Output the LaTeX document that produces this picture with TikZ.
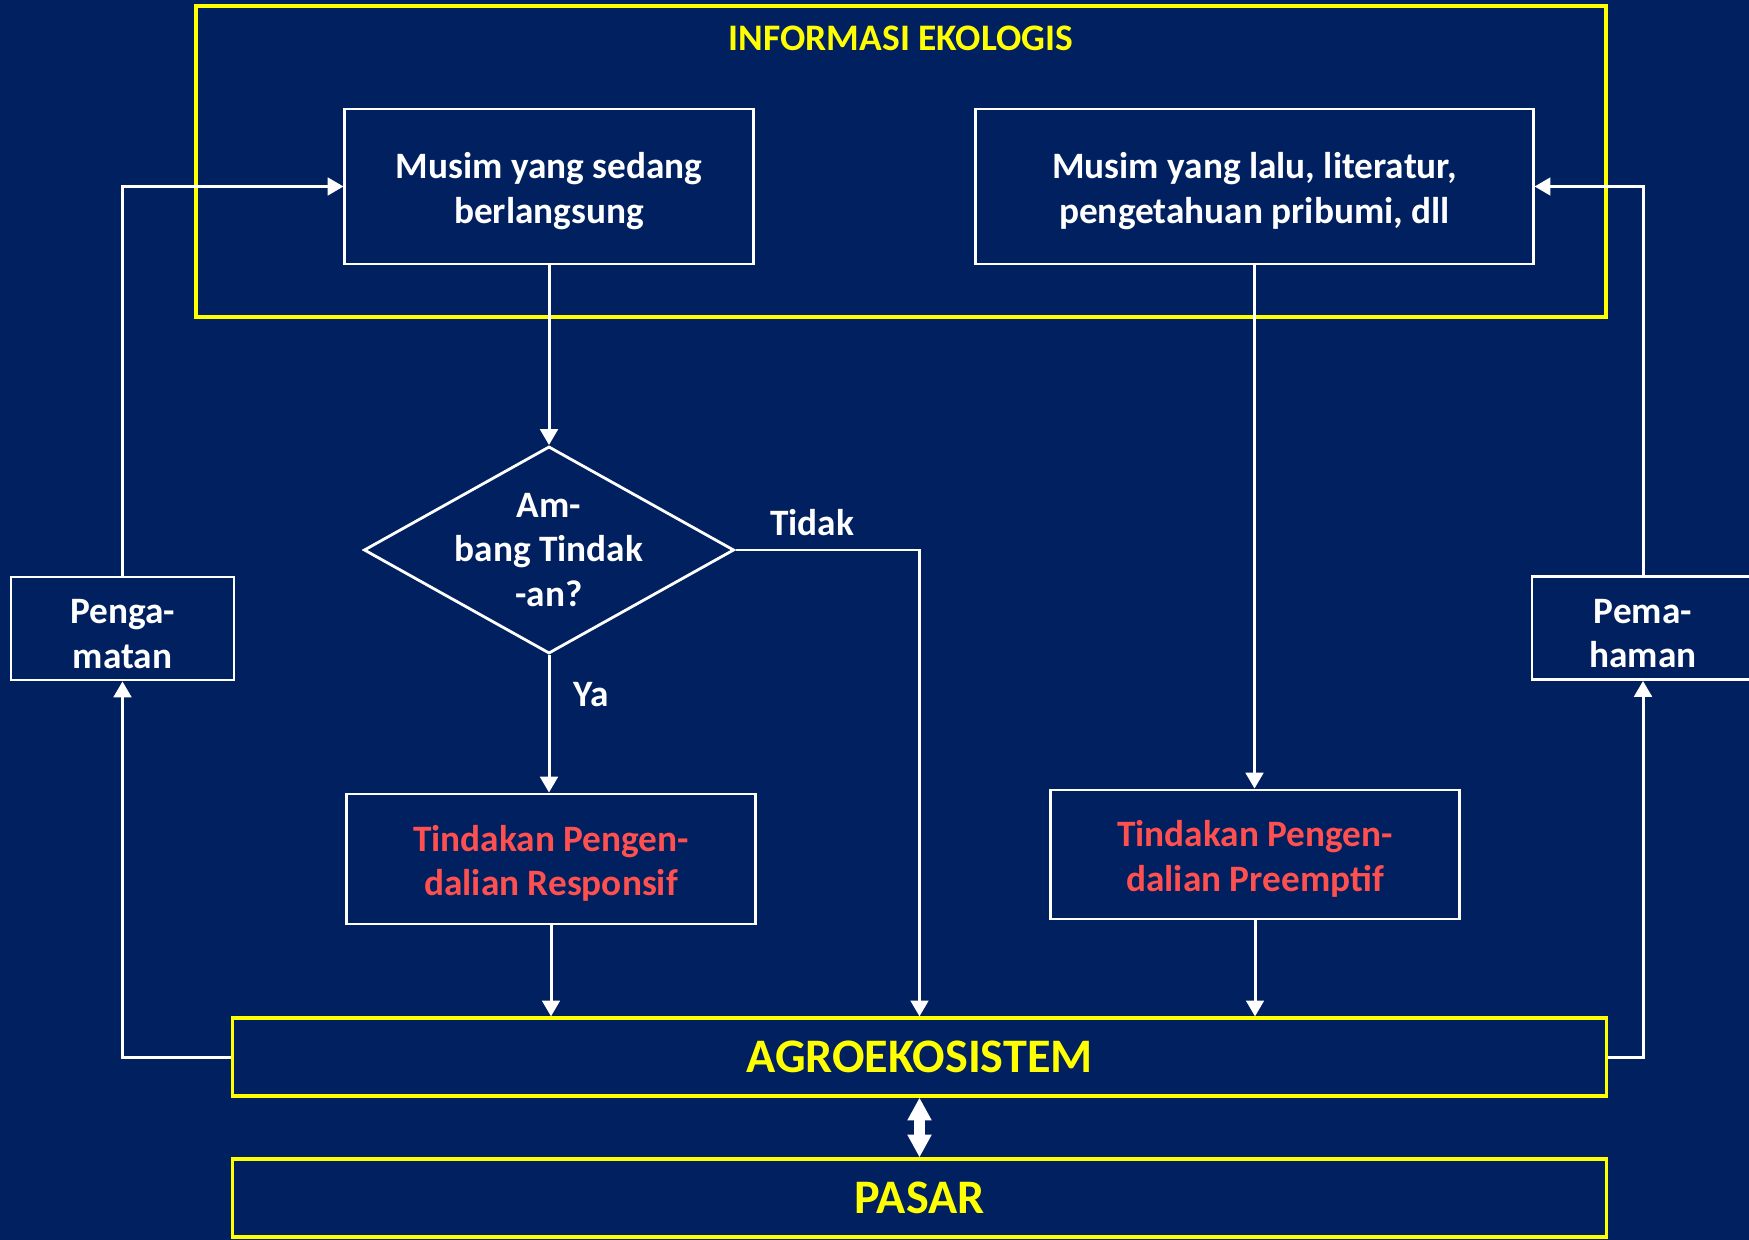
\documentclass[tikz,border=0pt]{standalone}
\usepackage{fontspec}
\setmainfont{Carlito}
\usepackage{xcolor}
\usepackage{tikz}
\usetikzlibrary{shapes.geometric,arrows.meta}
\definecolor{ppnavy}{RGB}{0, 32, 96}
\definecolor{ppyellow}{RGB}{255, 255, 0}
\definecolor{ppred}{RGB}{255, 80, 80}
\newcommand{\boxstrut}{\rule{0pt}{10pt}}

\begin{document}
\begin{tikzpicture}[x=0.01cm, y=-0.01cm,
  box/.style={draw=white, line width=0.8pt, align=center, inner sep=0pt, text=white, font=\fontsize{10.6}{12.7}\selectfont\bfseries},
  decision/.style={draw=white, line width=0.8pt, diamond, align=center, inner sep=-10pt, text=white, font=\fontsize{10.6}{12.7}\selectfont\bfseries},
  ybox/.style={draw=ppyellow, line width=0.9pt, text=ppyellow, inner sep=0pt, minimum width=13.73cm, minimum height=0.78cm, font=\fontsize{13.7}{16}\selectfont\bfseries},
  lbl/.style={text=white, font=\fontsize{10.6}{12.7}\selectfont\bfseries},
  flow/.style={white, line width=0.85pt, -{Triangle[width=5pt,length=4.5pt]}}]
\useasboundingbox (0,0) rectangle (1749,1240);
\fill[ppnavy] (0,0) rectangle (1749,1240);
\clip (0,0) rectangle (1749,1240);

% Informasi ekologis
\draw[ppyellow, line width=0.9pt] (196,6) rectangle (1606,317);
\node[text=ppyellow, font=\fontsize{10.65}{12.7}\selectfont\bfseries] (info) at (901,38) {INFORMASI EKOLOGIS};
\node[box, minimum width=4.08cm, minimum height=1.55cm] (musimkini) at (549,186.5) {\boxstrut Musim yang sedang\\berlangsung};
\node[box, minimum width=5.57cm, minimum height=1.55cm] (musimlalu) at (1254.5,186.5) {\boxstrut Musim yang lalu, literatur,\\pengetahuan pribumi, dll};

% Keputusan
\node[decision, aspect=1.79, minimum width=3.7cm, minimum height=2.07cm] (ambang) at (549,550) {Am-\\bang Tindak\\-an?};
\node[box, text=ppred, minimum width=4.08cm, minimum height=1.3cm] (responsif) at (551,859) {\boxstrut Tindakan Pengen-\\dalian Responsif};
\node[box, text=ppred, minimum width=4.08cm, minimum height=1.29cm] (preemptif) at (1255,854.5) {\boxstrut Tindakan Pengen-\\dalian Preemptif};
\node[box, minimum width=2.23cm, minimum height=1.03cm] (pengamatan) at (122.5,628.5) {\boxstrut Penga-\\matan};
\node[box, minimum width=2.22cm, minimum height=1.03cm] (pemahaman) at (1643,628) {\boxstrut Pema-\\haman};

% Agroekosistem dan pasar
\node[ybox] (agro) at (919.5,1057) {AGROEKOSISTEM};
\node[ybox] (pasar) at (919.5,1198) {PASAR};

% Arrows
\draw[flow] (musimkini.south) -- (ambang.north);
\draw[flow] (ambang.south) -- (ambang.south |- responsif.north);
\draw[flow] (ambang.east) -| (agro.north);
\draw[flow] (musimlalu.south) -- (musimlalu.south |- preemptif.north);
\draw[flow] (responsif.south) -- (responsif.south |- agro.north);
\draw[flow] (preemptif.south) -- (preemptif.south |- agro.north);
\draw[flow] (agro.west) -| (pengamatan.south);
\draw[flow] (pengamatan.north) |- (musimkini.west);
\draw[flow] (agro.east) -| (pemahaman.south);
\draw[flow] (pemahaman.north) |- (musimlalu.east);
\draw[white, line width=3pt, {Triangle[width=6.5pt,length=6.5pt]}-{Triangle[width=6.5pt,length=6.5pt]}] (agro.south) -- (pasar.north);

% Labels
\node[lbl] (tidak) at (812,523) {Tidak};
\node[lbl] (ya) at (591,695) {Ya};
\end{tikzpicture}
\end{document}
